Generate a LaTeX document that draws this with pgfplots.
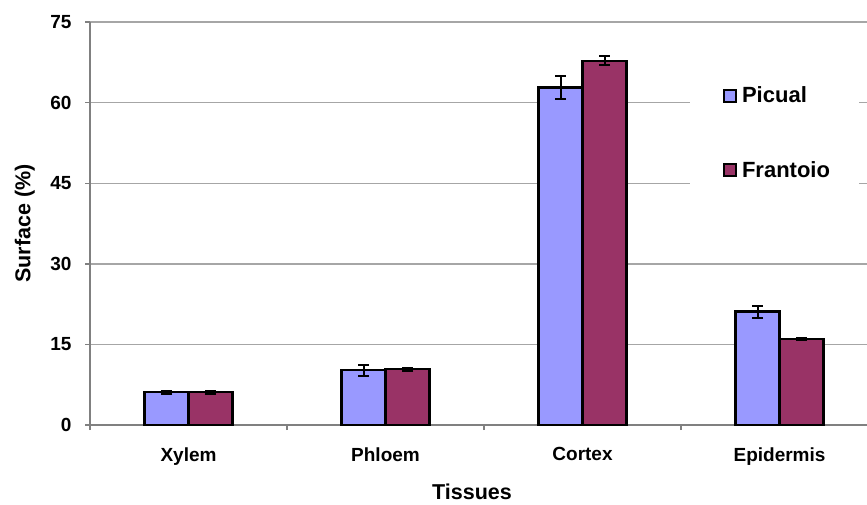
\documentclass[border=0pt]{standalone}
\usepackage{fontspec}
\setmainfont{Liberation Sans}
\usepackage{pgfplots}
\pgfplotsset{compat=1.18}
\definecolor{picual}{HTML}{9999FF}
\definecolor{frantoio}{HTML}{993366}
\definecolor{gridgray}{HTML}{A6A6A6}
\definecolor{axisgray}{HTML}{808080}

\begin{document}
\begin{tikzpicture}
\path[use as bounding box] (0,0) rectangle (867pt,504pt);
\begin{axis}[
  at={(90pt,79pt)}, anchor=south west,
  scale only axis, width=777pt, height=403pt,
  ybar=0pt, bar width=44pt,
  xmin=-0.5, xmax=3.444, ymin=0, ymax=75,
  ytick={0,15,30,45,60,75},
  ymajorgrids, grid style={gridgray, line width=1.4pt},
  axis x line*=bottom, axis y line*=left,
  axis line style={axisgray, line width=1.4pt},
  ytick style={axisgray, line width=1.4pt},
  tick align=outside, major tick length=5pt,
  /pgf/number format/assume math mode=true,
  tick label style={font=\bfseries\fontsize{19}{21}\selectfont},
  yticklabel style={xshift=-10pt},
  xtick={0,1,2,3},
  xticklabels={Xylem,Phloem,Cortex,Epidermis},
  xtick style={draw=none},
  xticklabel style={yshift=-14pt},
  extra x ticks={-0.5,0.5,1.5,2.5},
  extra x tick labels={},
  extra x tick style={xtick style={draw=axisgray, line width=1.4pt}},
  xlabel={Tissues},
  ylabel={Surface (\%)},
  label style={font=\bfseries\fontsize{21.5}{24}\selectfont},
  xlabel style={at={(axis description cs:0.4916,-0.166)}, anchor=center},
  ylabel style={at={(axis description cs:-0.084,0.5)}, anchor=center},
  legend style={at={(axis description cs:0.772,0.869)}, anchor=north west,
    draw=none, fill=white, font=\bfseries\fontsize{22}{24}\selectfont,
    row sep=53pt, inner xsep=27pt, inner ysep=10pt,
    cells={anchor=west}},
  legend image code/.code={%
    \draw[#1, draw=black, line width=2pt] (0pt,-6pt) rectangle (12pt,6pt);
    \path[draw=none, fill=none] (-7pt,0pt) rectangle (16pt,0.1pt);},
  error bars/error bar style={black, line width=2pt},
  error bars/error mark options={black, rotate=90, mark size=5.5pt, line width=2pt},
]
% Picual
\addplot[fill=picual, draw=black, line width=2.3pt,
  error bars/.cd, y dir=both, y explicit]
  coordinates {(0,6.1) +- (0,0.3) (1,10.2) +- (0,1.0) (2,62.8) +- (0,2.2) (3,21.1) +- (0,1.1)};
% Frantoio
\addplot[fill=frantoio, draw=black, line width=2.3pt,
  error bars/.cd, y dir=both, y explicit]
  coordinates {(0,6.1) +- (0,0.3) (1,10.4) +- (0,0.3) (2,67.8) +- (0,0.8) (3,16.0) +- (0,0.2)};
\legend{Picual,Frantoio}
\end{axis}
\end{tikzpicture}
\end{document}
